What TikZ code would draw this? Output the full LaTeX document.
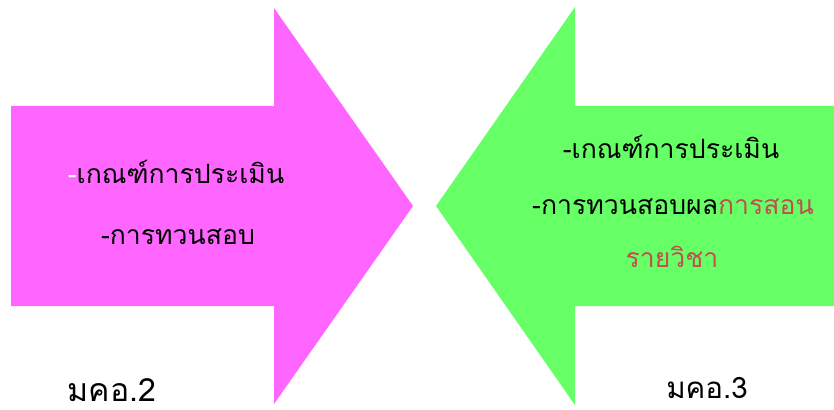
\documentclass[tikz,border=0pt]{standalone}
\usepackage{fontspec}
\usepackage{xcolor}
\usepackage{tikz}
\usetikzlibrary{positioning}
\newfontfamily\thaifont[Script=Thai]{Loma}
\definecolor{pinkarrow}{HTML}{FF66FF}
\definecolor{greenarrow}{HTML}{66FF66}
\definecolor{redtext}{HTML}{C0504D}
\tikzset{
  bigarrow/.style={draw=none},
  txt/.style={font=\thaifont\fontsize{26.6}{32}\selectfont,inner sep=0pt,anchor=center},
  lbl/.style={font=\thaifont\fontsize{32}{36}\selectfont,inner sep=0pt,anchor=base,text depth=0pt},
}

\begin{document}
\begin{tikzpicture}[x=1pt,y=-1pt]
  \useasboundingbox (0,0) rectangle (834,409);
  % left arrow (to the right)
  \fill[bigarrow,pinkarrow] (11,106) -- (274,106) -- (274,8) -- (413,206) -- (274,404) -- (274,306) -- (11,306) -- cycle;
  % right arrow (to the left)
  \fill[bigarrow,greenarrow] (834,106) -- (575,106) -- (575,7) -- (436,206) -- (575,405) -- (575,306) -- (834,306) -- cycle;
  \node[txt] (l1) at (176,172) {\textcolor{white}{-}เกณฑ์การประเมิน};
  \node[txt] (l2) at (178,237) {-การทวนสอบ};
  \node[txt] (r1) at (671,147) {-เกณฑ์การประเมิน};
  \node[txt] (r2) at (673,207) {-การทวนสอบผล\textcolor{redtext}{การสอน}};
  \node[txt,text=redtext] (r3) at (672,257) {รายวิชา};
  \node[lbl] (m2) at (112,401) {มคอ.2};
  \node[lbl,font=\thaifont\fontsize{29.5}{34}\selectfont] (m3) at (707,398) {มคอ.3};
\end{tikzpicture}
\end{document}
